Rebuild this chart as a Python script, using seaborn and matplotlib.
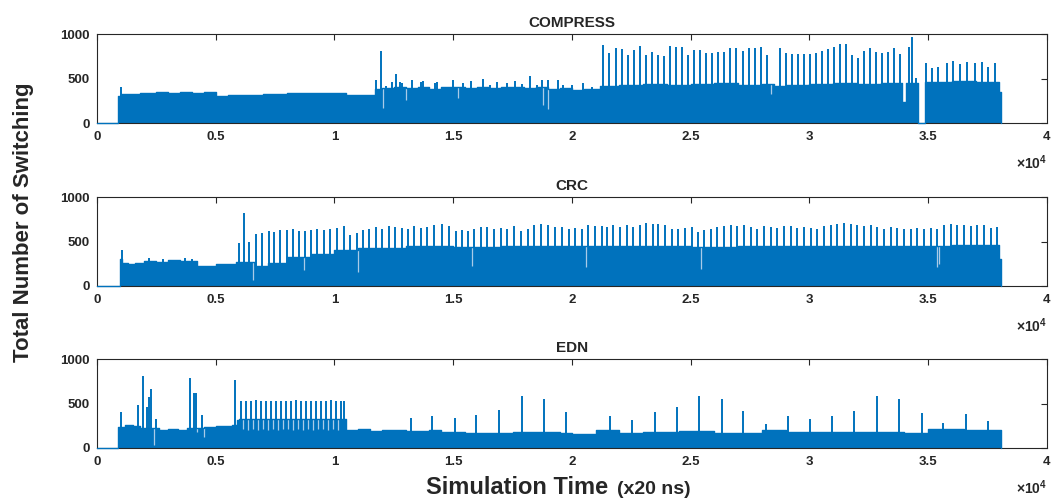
import numpy as np
import matplotlib as mpl
mpl.use('Agg')
import matplotlib.pyplot as plt
import matplotlib.ticker as mticker
import seaborn as sns

sns.set_theme(style='white')
plt.rcParams['font.family'] = ['Liberation Sans', 'DejaVu Sans']
plt.rcParams['font.weight'] = 'bold'
plt.rcParams['mathtext.fontset'] = 'custom'
plt.rcParams['mathtext.rm'] = 'Liberation Sans'

BLUE = '#0072BD'
DIP = '#a9cbe8'
SCALE = 1e4  # x values below are read in units of 1e4 time steps

# ---------------- COMPRESS ----------------
comp_body_x = [0, 0.09, 0.10, 0.14, 0.18, 0.20, 0.25, 0.30, 0.35, 0.40, 0.45, 0.50,
               0.55, 0.60, 0.65, 0.70, 0.75, 0.80, 0.85, 0.90, 0.95, 1.00, 1.05, 1.10,
               1.17, 1.20, 1.25, 1.30, 1.35, 1.40, 1.45, 1.50, 1.55, 1.60, 1.65, 1.70,
               1.75, 1.80, 1.85, 1.90, 1.95, 2.00, 2.05, 2.12, 2.20, 2.30, 2.40, 2.50,
               2.60, 2.70, 2.80, 2.85, 2.90, 3.00, 3.10, 3.20, 3.30, 3.39, 3.405, 3.455,
               3.485, 3.60, 3.70, 3.800, 3.805]
comp_body_y = [0, 300, 325, 330, 335, 340, 345, 342, 348, 340, 345, 305,
               310, 315, 320, 325, 330, 335, 338, 340, 338, 342, 315, 320,
               380, 390, 410, 395, 405, 385, 400, 410, 395, 405, 390, 400,
               410, 395, 400, 385, 395, 370, 380, 420, 430, 440, 425, 435,
               445, 430, 440, 420, 430, 440, 450, 440, 445, 240, 450, 0,
               465, 475, 460, 350, 0]
comp_spike_x = [0.100, 1.175, 1.198, 1.215, 1.241, 1.259, 1.276, 1.283, 1.325, 1.363,
                1.374, 1.423, 1.433, 1.500, 1.542, 1.577, 1.626, 1.654, 1.685, 1.725,
                1.760, 1.788, 1.823, 1.851, 1.875, 1.900, 1.942, 1.963, 1.999, 2.045, 2.083,
                2.132, 2.157, 2.184, 2.209, 2.234, 2.260, 2.286, 2.312, 2.337, 2.362,
                2.387, 2.413, 2.438, 2.463, 2.488, 2.515, 2.540, 2.566, 2.591, 2.616,
                2.641, 2.667, 2.692, 2.719, 2.744, 2.769, 2.795, 2.820,
                2.876, 2.901, 2.926, 2.952, 2.977, 3.002, 3.027, 3.053, 3.078, 3.103,
                3.128, 3.154, 3.179, 3.204, 3.229, 3.255, 3.280, 3.305, 3.331, 3.356,
                3.381, 3.420, 3.430, 3.448,
                3.491, 3.517, 3.542, 3.578, 3.606, 3.634, 3.662, 3.697, 3.725, 3.753, 3.781]
comp_spike_y = [408, 483, 812, 420, 465, 551, 465, 446, 483, 464,
                475, 453, 464, 483, 446, 475, 490, 427, 464, 446,
                475, 438, 528, 427, 483, 483, 483, 427, 427, 453, 401,
                876, 790, 839, 831, 764, 820, 865, 760, 798, 764,
                753, 861, 858, 850, 764, 816, 824, 783, 790, 801,
                794, 846, 839, 813, 839, 846, 858, 764,
                846, 783, 771, 771, 771, 771, 783, 809, 828, 850,
                884, 884, 764, 727, 813, 846, 801, 790, 801, 839,
                775, 858, 962, 502,
                670, 614, 633, 670, 700, 659, 681, 670, 689, 633, 670]
comp_dip_x = [1.205, 1.30, 1.52, 1.88, 1.90, 2.84, 3.398]
comp_dip_y = [170, 260, 280, 200, 160, 330, 240]

# ---------------- CRC ----------------
crc_body_x = [0, 0.095, 0.105, 0.13, 0.16, 0.20, 0.25, 0.30, 0.35, 0.42, 0.50, 0.585,
              0.665, 0.72, 0.80, 0.90, 1.00, 1.10, 1.30, 1.50, 1.70, 1.90, 2.10, 2.30,
              2.50, 2.70, 2.90, 3.10, 3.30, 3.50, 3.60, 3.800, 3.805]
crc_body_y = [0, 300, 255, 250, 258, 285, 275, 290, 280, 225, 245, 270,
              230, 260, 330, 360, 400, 430, 445, 440, 450, 445, 455, 450,
              440, 450, 455, 450, 445, 450, 460, 300, 0]
crc_spike_x = [0.104, 0.22, 0.28, 0.37, 0.40, 0.598, 0.619, 0.641,
               0.669, 0.695, 0.723, 0.747, 0.772, 0.799, 0.827, 0.851, 0.877, 0.903,
               0.928, 0.956, 0.981, 1.009, 1.040, 1.065, 1.093, 1.121, 1.147, 1.173,
               1.201, 1.229, 1.257, 1.283, 1.308, 1.336, 1.364, 1.391, 1.420, 1.451,
               1.482, 1.510, 1.535, 1.563, 1.589, 1.615, 1.643, 1.672, 1.700, 1.728,
               1.756, 1.785, 1.813, 1.840, 1.871, 1.900, 1.928, 1.959, 1.988, 2.013,
               2.041, 2.069, 2.097, 2.125,
               2.149, 2.174, 2.202, 2.230, 2.258, 2.286, 2.312, 2.340, 2.364, 2.392,
               2.420, 2.448, 2.476, 2.504, 2.532, 2.557, 2.585, 2.612, 2.640, 2.668,
               2.696, 2.724, 2.752, 2.780, 2.808, 2.837, 2.865, 2.893, 2.921, 2.949,
               2.977, 3.005, 3.033, 3.061, 3.089, 3.117, 3.146, 3.174, 3.202, 3.230,
               3.258, 3.286, 3.314, 3.342, 3.370, 3.398, 3.426, 3.454, 3.482, 3.510,
               3.538, 3.566, 3.595, 3.623, 3.651, 3.679, 3.707, 3.735, 3.763, 3.788]
crc_spike_y = [404, 310, 305, 310, 300, 487, 817, 494,
               588, 600, 614, 607, 625, 633, 637, 614, 622, 625,
               637, 625, 644, 652, 671, 577, 596, 633, 644, 659,
               644, 671, 659, 652, 637, 671, 652, 659, 682, 693,
               671, 618, 625, 614, 644, 663, 659, 644, 652, 644,
               671, 618, 644, 682, 697, 682, 663, 659, 644, 652,
               637, 686, 674, 671,
               663, 682, 663, 682, 663, 686, 708, 697, 693, 682,
               644, 637, 652, 663, 607, 625, 644, 659, 671, 682,
               671, 686, 663, 644, 671, 663, 656, 678, 671, 652,
               663, 652, 644, 671, 682, 697, 708, 697, 686, 671,
               682, 663, 644, 663, 652, 637, 644, 656, 644, 652,
               637, 682, 697, 686, 682, 671, 682, 682, 652, 663]
crc_dip_x = [0.658, 0.87, 1.10, 1.58, 2.06, 2.545, 3.535, 3.545]
crc_dip_y = [64, 180, 158, 230, 214, 195, 214, 250]

# ---------------- EDN ----------------
edn_body_x = [0, 0.09, 0.12, 0.15, 0.18, 0.26, 0.30, 0.34, 0.38, 0.45, 0.50, 0.57,
              0.59, 0.60, 1.05, 1.10, 1.15, 1.20, 1.30, 1.40, 1.45, 1.55, 1.65, 1.75,
              1.85, 1.95, 2.00, 2.10, 2.20, 2.30, 2.45, 2.60, 2.70, 2.80, 2.90, 3.00,
              3.10, 3.20, 3.30, 3.40, 3.50, 3.65, 3.805]
edn_body_y = [0, 240, 258, 250, 230, 200, 210, 200, 230, 240, 245, 260,
              310, 330, 200, 210, 195, 205, 190, 200, 185, 170, 165, 175,
              180, 170, 160, 200, 165, 175, 195, 165, 170, 200, 185, 175,
              180, 175, 185, 170, 210, 205, 0]
edn_spike_x = [0.101, 0.171, 0.192, 0.211, 0.220, 0.229, 0.250, 0.393, 0.407, 0.415,
               0.442, 0.580,
               0.606, 0.627, 0.648, 0.669, 0.691, 0.712, 0.733, 0.754, 0.775, 0.796,
               0.817, 0.838, 0.859, 0.880, 0.901, 0.922, 0.943, 0.964, 0.985, 1.006,
               1.027, 1.041,
               1.321, 1.412, 1.507, 1.598, 1.692, 1.791, 1.882, 1.973, 2.160, 2.254,
               2.350, 2.441, 2.536, 2.630, 2.721, 2.815, 2.908, 3.002, 3.096, 3.189,
               3.286, 3.379, 3.473, 3.564, 3.659, 3.751]
edn_spike_y = [401, 483, 813, 464, 577, 659, 326, 783, 614, 614,
               371, 764,
               528, 532, 530, 534, 529, 532, 531, 533, 530, 528,
               532, 534, 530, 531, 533, 529, 532, 530, 534, 531,
               528, 525,
               333, 360, 333, 371, 427, 584, 551, 401, 363, 315,
               401, 456, 584, 551, 416, 266, 363, 326, 363, 420,
               584, 551, 390, 277, 378, 307]
edn_dip_x = [0.239, 0.421, 0.452, 0.616, 0.637, 0.659, 0.680, 0.701, 0.722, 0.743,
             0.764, 0.785, 0.806, 0.827, 0.848, 0.869, 0.890, 0.911, 0.932, 0.953,
             0.974, 0.995, 1.016]
edn_dip_y = [34, 184, 120, 210, 205, 215, 200, 210, 205, 212, 200, 208, 210, 203,
             215, 205, 210, 200, 208, 212, 205, 210, 206]

panels = [
    ('COMPRESS', comp_body_x, comp_body_y, comp_spike_x, comp_spike_y, comp_dip_x, comp_dip_y),
    ('CRC', crc_body_x, crc_body_y, crc_spike_x, crc_spike_y, crc_dip_x, crc_dip_y),
    ('EDN', edn_body_x, edn_body_y, edn_spike_x, edn_spike_y, edn_dip_x, edn_dip_y),
]
bottoms = [0.754, 0.428, 0.104]

fig = plt.figure(figsize=(10.54, 5.0), dpi=100)

for (title, bx, by, sx, sy, dx, dy), b in zip(panels, bottoms):
    ax = fig.add_axes([0.092, b, 0.9013, 0.178])
    bx = np.asarray(bx) * SCALE
    by = np.asarray(by, dtype=float)
    ax.fill_between(bx, by, step='post', color=BLUE, lw=0)
    sns.lineplot(x=bx, y=by, drawstyle='steps-post', color=BLUE, lw=1.0,
                 estimator=None, ax=ax, clip_on=False, zorder=5)
    ax.vlines(np.asarray(sx) * SCALE, 0, sy, color=BLUE, lw=1.4)
    dxs = np.asarray(dx) * SCALE
    tops = by[np.searchsorted(bx, dxs, side='right') - 1]
    ax.vlines(dxs, dy, tops, color=DIP, lw=0.9)

    ax.set_xlim(0, 40000)
    ax.set_ylim(0, 1000)
    ax.set_xticks(np.arange(0, 40001, 5000))
    ax.set_yticks([0, 500, 1000])
    ax.xaxis.set_major_formatter(mticker.FuncFormatter(lambda v, _: f'{v / SCALE:g}'))
    ax.tick_params(direction='in', top=True, right=True, length=4, width=0.8,
                   colors='#262626', labelsize=9.5)
    ax.tick_params(axis='x', pad=6)
    ax.tick_params(axis='y', pad=5)
    for s in ax.spines.values():
        s.set_color('#262626')
        s.set_linewidth(0.8)
        s.set_zorder(4)
    ax.set_xlabel('')
    ax.set_ylabel('')
    ax.set_title(title, fontsize=11, fontweight='bold', pad=5)
    ax.annotate(r'$\times10^{4}$', xy=(1, 0), xycoords='axes fraction',
                xytext=(0, -22), textcoords='offset points', ha='right', va='top',
                fontsize=10, fontweight='normal', color='#262626')

fig.text(0.022, 0.556, 'Total Number of Switching', rotation=90, fontsize=16,
         fontweight='bold', ha='center', va='center')
fig.text(0.577, 0.012, 'Simulation Time', fontsize=17, fontweight='bold',
         ha='right', va='baseline')
fig.text(0.585, 0.012, '(x20 ns)', fontsize=14, fontweight='bold',
         ha='left', va='baseline')

fig.savefig('out.png', dpi=100)
